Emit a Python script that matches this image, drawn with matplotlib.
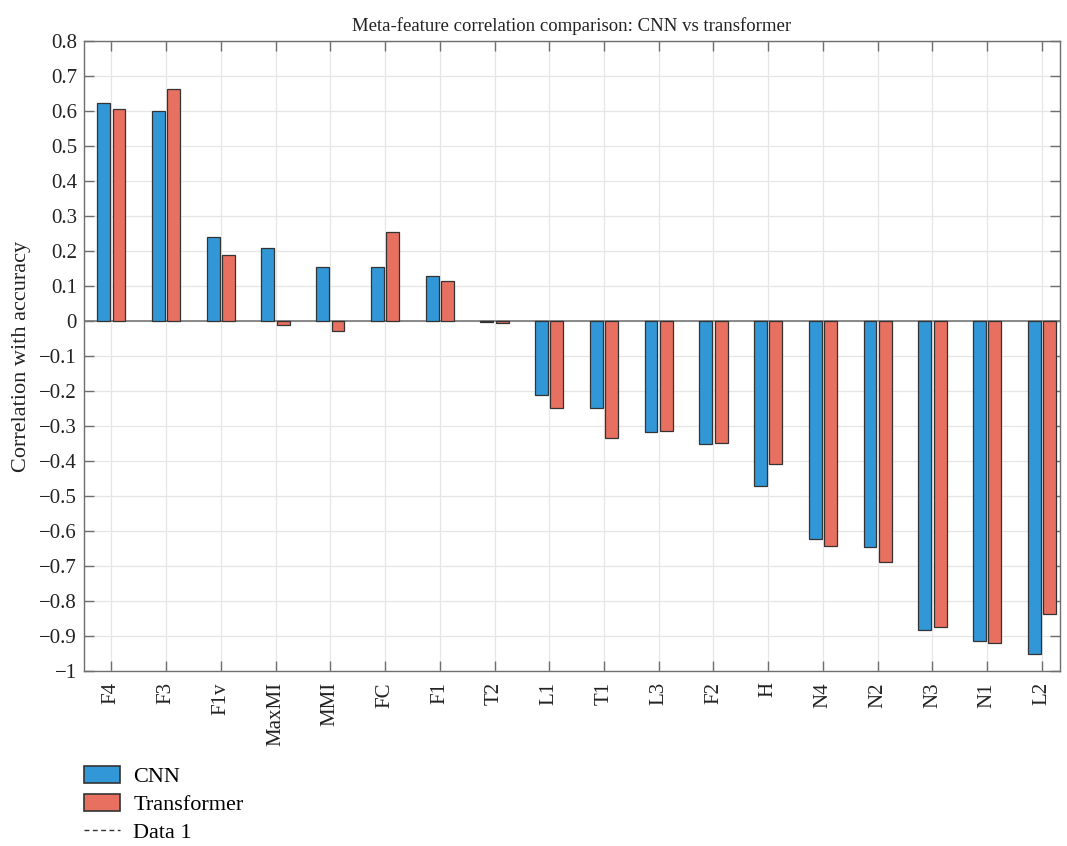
import numpy as np
import matplotlib
matplotlib.use("Agg")
import matplotlib.pyplot as plt
from matplotlib.patches import Patch
from matplotlib.lines import Line2D

plt.rcParams['font.family'] = ['Liberation Serif', 'DejaVu Serif']

features = ['F4', 'F3', 'F1v', 'MaxMI', 'MMI', 'FC', 'F1', 'T2', 'L1',
            'T1', 'L3', 'F2', 'H', 'N4', 'N2', 'N3', 'N1', 'L2']
cnn = [0.622, 0.600, 0.239, 0.210, 0.154, 0.155, 0.128, -0.004, -0.212,
       -0.249, -0.317, -0.351, -0.472, -0.622, -0.647, -0.884, -0.915, -0.951]
transformer = [0.606, 0.664, 0.189, -0.012, -0.029, 0.255, 0.113, -0.005, -0.249,
               -0.334, -0.314, -0.348, -0.409, -0.644, -0.690, -0.875, -0.920, -0.836]
yticks = np.round(np.arange(-1, 0.81, 0.1), 1)

blue = '#3197d6'
red = '#e87060'
edge = '#333333'
spine = '#6e6e6e'
txt = '#222222'

x = np.arange(1, len(features) + 1)
w = 0.235
off = 0.14

fig = plt.figure(figsize=(10.67, 8.46), dpi=100)
ax = fig.add_axes([0.0787, 0.2069, 0.9147, 0.7446])

ax.set_axisbelow(True)
ax.grid(True, color='#e6e6e6', linewidth=0.9)
ax.bar(x - off, cnn, width=w, color=blue, edgecolor=edge, linewidth=0.9, zorder=3)
ax.bar(x + off, transformer, width=w, color=red, edgecolor=edge, linewidth=0.9, zorder=3)
ax.axhline(0, color='#777777', linewidth=1.2, zorder=2)

ax.set_xlim(0.5, 18.33)
ax.set_ylim(-1, 0.8)
ax.set_yticks(yticks)
ax.set_yticklabels([('%g' % v).replace('-', '\u2212') if v != 0 else '0' for v in yticks])
ax.set_xticks(x)
ax.set_xticklabels(features, rotation=90)

ax.tick_params(axis='both', direction='in', length=7, width=1, color=spine,
               top=True, right=True, labelsize=15, labelcolor=txt)
ax.tick_params(axis='x', pad=8)
ax.tick_params(axis='y', pad=5)
for s in ax.spines.values():
    s.set_color(spine)
    s.set_linewidth(1)

ax.set_ylabel('Correlation with accuracy', fontsize=16, color=txt, labelpad=6)
ax.set_title('Meta-feature correlation comparison: CNN vs transformer',
             fontsize=13.5, color=txt, pad=7)

# legend sits under the axes, the third entry is an empty dashed line
handles = [Patch(facecolor=blue, edgecolor=edge, linewidth=1.2),
           Patch(facecolor=red, edgecolor=edge, linewidth=1.2),
           Line2D([], [], color='#333333', linestyle=(0, (3.5, 2.5)), linewidth=1)]
fig.legend(handles, ['CNN', 'Transformer', 'Data 1'], loc='upper left',
           bbox_to_anchor=(0.079, 0.095), frameon=False, fontsize=16,
           handlelength=1.6, handleheight=0.8, handletextpad=0.6,
           labelspacing=0.3, borderaxespad=0, borderpad=0)

fig.savefig('out.png', dpi=100)
